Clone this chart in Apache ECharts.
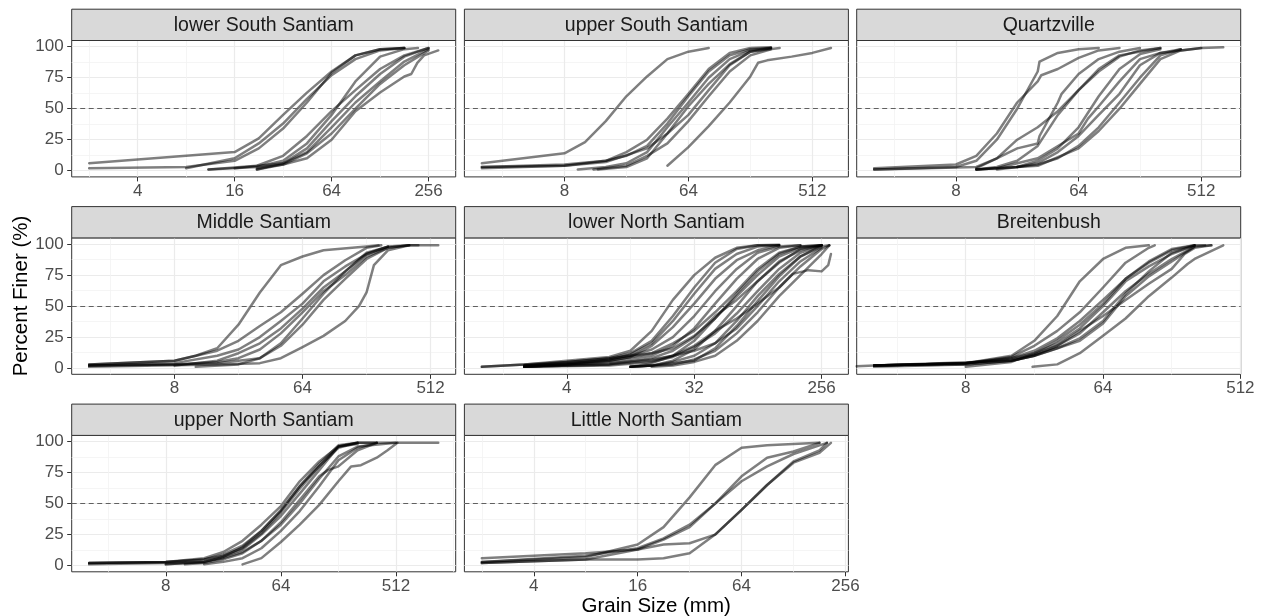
<!DOCTYPE html>
<html>
<head>
<meta charset="utf-8">
<script src="https://cdn.jsdelivr.net/npm/echarts@6/dist/echarts.min.js"></script>
<style>
  html, body { margin: 0; padding: 0; background: #ffffff; }
  #chart { width: 1261px; height: 616px; }
</style>
</head>
<body>
<div id="chart"></div>
<script>
// Cumulative grain-size distributions (pebble counts), one facet per reach.
// Each curve is a list of [grain size in mm, percent finer].

const reachNames = [
  'lower South Santiam', 'upper South Santiam', 'Quartzville',
  'Middle Santiam', 'lower North Santiam', 'Breitenbush',
  'upper North Santiam', 'Little North Santiam'
];

const lowerSouthSantiam = [
  [[2,6],[16,15],[22.6,26],[32,45],[45,63],[64,80],[90,93],[128,98],[181,99]],
  [[2,2],[8,3],[16,8],[22.6,18],[32,34],[45,55],[64,79],[90,93],[128,98],[181,99]],
  [[8,2],[16,10],[22.6,22],[32,38],[45,58],[64,77],[90,90],[128,97],[181,99]],
  [[11,1],[22,4],[32,12],[45,28],[64,48],[90,65],[128,82],[181,93],[256,99]],
  [[11,1],[22,3],[32,8],[45,22],[64,45],[90,72],[128,92],[181,98],[220,99]],
  [[22,1],[32,6],[45,18],[64,40],[90,60],[128,78],[181,92],[256,99]],
  [[22,1],[32,5],[45,10],[64,25],[90,48],[128,63],[181,76],[200,78],[218,87],[240,93],[294,97]],
  [[16,2],[32,6],[45,15],[64,35],[90,55],[128,72],[181,88],[256,98]],
  [[22,2],[32,5],[45,14],[64,30],[90,50],[128,70],[181,85],[256,97]]
];

const upperSouthSantiam = [
  [[2,6],[8,14],[11.3,23],[16,40],[22.6,60],[32,76],[45,90],[64,96],[90,99]],
  [[2,3],[8,4],[16,8],[22.6,15],[32,25],[45,42],[64,62],[90,82],[128,95],[181,99],[256,99.5]],
  [[2,3],[8,5],[16,8],[22.6,12],[32,20],[45,38],[64,60],[90,80],[128,93],[181,98],[256,99]],
  [[10,1],[16,3],[22.6,6],[32,15],[45,35],[64,55],[90,75],[128,90],[181,97],[256,99]],
  [[14,1],[22.6,3],[32,10],[45,30],[64,52],[90,70],[128,86],[181,96],[296,99]],
  [[2,2],[8,4],[16,7],[32,18],[45,30],[64,45],[90,65],[128,85],[181,96],[256,99]],
  [[13,1],[22.6,4],[32,12],[45,22],[64,40],[90,60],[128,80],[181,93],[256,98]],
  [[45,4],[64,19],[90,36],[128,55],[181,76],[206,87],[240,89],[362,92],[512,95],[700,99]]
];

const quartzville = [
  [[2,1],[8,3],[11.3,8],[16,25],[22.6,50],[32,80],[33,88],[45,95],[64,98],[90,99]],
  [[2,2],[8,5],[11.3,12],[16,30],[22.6,55],[32,72],[34,77],[45,82],[64,91],[90,97],[128,99]],
  [[2,1],[11.3,3],[16,10],[22.6,18],[32,22],[33,28],[45,55],[48,62],[64,78],[90,90],[128,96],[181,99]],
  [[11.3,2],[16,10],[22.6,25],[32,35],[45,48],[64,65],[90,80],[128,92],[181,97],[256,99]],
  [[11.3,1],[16,3],[22.6,8],[32,20],[45,45],[64,65],[90,82],[128,93],[256,99]],
  [[11.3,1],[16,2],[32,10],[64,30],[75,42],[90,52],[128,72],[181,90],[256,95],[362,97],[512,99],[743,99.5]],
  [[11.3,1],[22.6,3],[32,6],[45,15],[64,28],[90,45],[128,62],[181,85],[256,95],[362,98]],
  [[16,1],[32,5],[45,10],[64,20],[90,35],[128,55],[181,75],[256,93],[362,98]],
  [[11.3,1],[32,4],[64,18],[90,32],[128,50],[181,70],[256,90],[362,97],[512,99]],
  [[22.6,3],[32,8],[45,18],[64,35],[90,60],[128,82],[181,94],[256,98]]
];

const middleSantiam = [
  [[2,3],[8,6],[11.3,10],[16,16],[22.6,35],[32,61],[45,83],[64,90],[90,95],[181,98],[220,99]],
  [[2,3],[8,6],[16,14],[22.6,22],[32,34],[45,45],[64,60],[90,75],[128,87],[181,97],[230,99]],
  [[2,2],[8,4],[16,10],[22.6,15],[32,25],[45,38],[64,52],[90,70],[128,82],[181,92],[256,98],[362,99]],
  [[8,2],[16,6],[22.6,12],[32,20],[45,32],[64,48],[90,65],[128,78],[181,92],[256,98]],
  [[2,2],[8,3],[16,5],[22.6,8],[32,15],[45,28],[64,45],[90,62],[128,75],[181,90],[256,97],[362,99]],
  [[2,1],[16,3],[32,4],[45,8],[64,17],[90,26],[128,38],[160,50],[181,61],[204,83],[256,95],[362,99],[420,99]],
  [[11.3,1],[22.6,3],[32,8],[45,18],[64,35],[90,55],[128,72],[181,88],[256,97],[362,99],[580,99]],
  [[2,2],[8,3],[16,4],[32,8],[45,20],[64,40],[90,60],[128,78],[181,93],[256,98]]
];

const lowerNorthSantiam = [
  [[1,1],[2,3],[4,6],[8,9],[11.3,14],[16,30],[22.6,55],[32,75],[45,89],[64,97],[90,99],[128,99.5]],
  [[2,2],[4,5],[8,8],[11.3,12],[16,22],[22.6,42],[32,65],[45,85],[64,96],[90,99],[128,99]],
  [[2,1],[4,3],[8,6],[11.3,9],[16,18],[22.6,33],[32,52],[45,72],[64,87],[90,95],[128,99]],
  [[2,2],[4,4],[8,7],[11.3,10],[16,15],[22.6,25],[32,42],[45,62],[64,80],[90,93],[128,98],[181,99]],
  [[2,1],[4,3],[8,5],[16,10],[22.6,18],[32,32],[45,52],[64,72],[90,88],[128,97],[181,99]],
  [[2,2],[4,4],[8,6],[16,12],[22.6,20],[32,30],[45,45],[64,62],[90,80],[128,93],[181,98],[256,99]],
  [[11.3,1],[16,4],[22.6,10],[32,22],[45,40],[64,60],[90,78],[128,92],[181,98],[256,99]],
  [[2,1],[8,3],[16,8],[22.6,14],[32,25],[45,42],[64,55],[90,70],[128,85],[181,96],[256,99]],
  [[11.3,1],[16,2],[22.6,6],[32,15],[45,30],[64,50],[90,70],[128,86],[181,95],[256,99]],
  [[2,1],[8,2],[16,5],[22.6,9],[32,17],[45,28],[64,44],[90,62],[128,80],[181,93],[256,99]],
  [[11.3,1],[16,2],[22.6,5],[32,10],[45,20],[64,38],[90,58],[128,76],[181,90],[256,98],[290,99]],
  [[2,2],[8,4],[16,7],[22.6,10],[32,14],[45,20],[64,32],[90,50],[128,70],[181,86],[256,97]],
  [[11.3,1],[22.6,3],[32,7],[45,14],[64,28],[90,45],[128,65],[181,82],[256,96],[290,99]],
  [[16,1],[22.6,2],[32,5],[45,10],[64,22],[90,38],[128,58],[181,75],[256,92],[290,99]],
  [[2,1],[8,3],[16,6],[22.6,10],[32,18],[45,30],[64,40],[90,52],[128,65],[160,76],[207,79],[256,78],[285,83],[298,92]],
  [[2,1],[4,3],[8,7],[11.3,11],[16,20],[22.6,38],[32,60],[45,80],[64,92],[90,98],[128,99]],
  [[1,1],[2,3],[4,5],[8,8],[16,12],[22.6,16],[32,26],[45,40],[64,58],[90,75],[128,90],[181,97],[256,99]],
  [[11.3,1],[16,2],[32,6],[45,16],[64,34],[90,54],[128,74],[181,90],[256,99]]
];

const breitenbush = [
  [[2,2],[8,4],[16,10],[22.6,22],[32,42],[45,70],[64,88],[90,97],[128,99]],
  [[2,2],[8,4],[16,9],[22.6,18],[32,30],[45,45],[64,65],[90,85],[128,97],[140,99]],
  [[2,2],[8,4],[16,8],[22.6,14],[32,24],[45,38],[64,55],[90,72],[128,85],[181,95],[256,99]],
  [[2,2],[8,4],[16,8],[22.6,12],[32,20],[45,32],[64,50],[90,70],[128,82],[181,92],[256,99],[300,99]],
  [[2,1],[8,3],[16,6],[22.6,10],[32,16],[45,24],[64,38],[90,60],[128,78],[181,93],[256,99]],
  [[2,2],[8,4],[16,7],[22.6,11],[32,18],[45,28],[64,45],[90,62],[128,76],[181,88],[256,98]],
  [[22,1],[32,3],[45,12],[64,26],[90,40],[128,58],[181,73],[230,84],[256,88],[395,99]],
  [[0,1.5],[2,2],[8,3],[16,6],[22.6,10],[32,16],[45,22],[64,36],[90,58],[128,74],[181,86],[256,98],[330,99]],
  [[2,2],[16,6],[22.6,10],[32,18],[45,30],[64,42],[90,55],[128,68],[181,80],[220,92],[256,97],[330,99]],
  [[8,1],[16,5],[22.6,12],[32,22],[45,35],[64,52],[90,72],[128,86],[181,96],[256,99]]
];

const upperNorthSantiam = [
  [[2,2],[8,3],[16,5],[22.6,8],[32,14],[45,26],[64,43],[90,62],[128,80],[181,96],[256,99],[512,99]],
  [[2,2],[8,3],[16,5],[22.6,9],[32,16],[45,28],[64,44],[90,64],[128,80],[181,95],[256,99]],
  [[8,1],[16,3],[22.6,7],[32,13],[45,25],[64,40],[90,58],[128,77],[181,96],[256,98]],
  [[11.3,1],[16,2],[22.6,5],[32,10],[45,20],[64,35],[90,53],[128,72],[150,77],[181,80],[256,93],[362,99]],
  [[2,1],[8,2],[16,3],[22.6,6],[32,11],[45,20],[64,33],[90,50],[128,70],[181,88],[256,96],[512,99],[1100,99]],
  [[32,1],[45,6],[64,19],[90,33],[128,49],[181,68],[228,80],[272,81],[362,87],[440,93],[526,99]],
  [[16,1],[22.6,3],[32,6],[45,14],[64,28],[90,44],[128,64],[181,85],[256,95],[362,99]],
  [[2,2],[8,3],[16,6],[22.6,11],[32,20],[45,33],[64,48],[90,68],[128,84],[181,96],[256,99],[362,99]],
  [[8,1],[16,3],[22.6,7],[32,15],[45,28],[64,45],[90,64],[128,82],[181,97],[256,99]]
];

const littleNorthSantiam = [
  [[2,3],[8,7],[16,17],[22.6,31],[32,55],[45,81],[64,95],[90,97],[181,99]],
  [[2,6],[8,10],[16,13],[22.6,21],[32,31],[45,50],[64,72],[90,87],[128,92],[181,99]],
  [[2,3],[8,8],[16,14],[22.6,22],[32,33],[45,50],[64,68],[90,80],[128,90],[181,97],[200,99]],
  [[2,2],[8,5],[16,13],[22.6,17],[32,18],[45,25],[64,45],[90,65],[128,84],[181,93],[200,99]],
  [[2,2],[8,5],[16,5],[22.6,6],[32,10],[45,25],[64,45],[90,65],[128,83],[181,91],[211,99]]
];

const reachCurves = [
  lowerSouthSantiam, upperSouthSantiam, quartzville,
  middleSantiam, lowerNorthSantiam, breitenbush,
  upperNorthSantiam, littleNorthSantiam
];

// x tick labels (mm) for each facet; the x scale is free per facet
const xTickLabels = [
  [4, 16, 64, 256], [8, 64, 512], [8, 64, 512],
  [8, 64, 512], [4, 32, 256], [8, 64, 512],
  [8, 64, 512], [4, 16, 64, 256]
];
const yTickLabels = [0, 25, 50, 75, 100];
const referenceLevel = 50;

// ---- layout ----
const FONT = '"Liberation Sans", Arial, Helvetica, sans-serif';
const colLeft = [71.7, 464.4, 856.7];
const rowTop = [40.5, 237.9, 435.4];
const panelW = 384, panelH = 136.4, stripH = 31.3;
const lineColor = 'rgba(0,0,0,0.5)';

// ggplot-style continuous expansion: 5% of the data span on each side (log2 space)
function logExtent(curves) {
  let lo = Infinity, hi = -Infinity;
  curves.forEach(c => c.forEach(([mm]) => {
    if (mm > 0) { const v = Math.log2(mm); lo = Math.min(lo, v); hi = Math.max(hi, v); }
  }));
  const pad = (hi - lo) * 0.05;
  return [lo - pad, hi + pad];
}

function minorBreaks(majors, ext) {
  const step = majors[1] - majors[0];
  const out = majors.map(m => m - step / 2);
  out.push(majors[majors.length - 1] + step / 2);
  return out.filter(v => v >= ext[0] && v <= ext[1]);
}

const grids = [], xAxes = [], yAxes = [], series = [], graphics = [];
const yMinor = yTickLabels.slice(1).map((v, i) => (v + yTickLabels[i]) / 2);

reachNames.forEach((name, i) => {
  const col = i % 3, row = Math.floor(i / 3);
  const ext = logExtent(reachCurves[i]);
  const majors = xTickLabels[i].map(v => Math.log2(v));
  const minors = minorBreaks(majors, ext);

  grids.push({
    left: colLeft[col], top: rowTop[row], width: panelW, height: panelH,
    show: true, borderColor: '#333333', borderWidth: 1, backgroundColor: '#ffffff',
    containLabel: false, outerBoundsMode: 'none'
  });

  xAxes.push({
    gridIndex: i, type: 'value', min: ext[0], max: ext[1], position: 'bottom',
    axisLine: { show: false, onZero: false },
    axisTick: { show: true, length: 4.5, customValues: majors, lineStyle: { color: '#333333', width: 1 } },
    axisLabel: {
      customValues: majors, margin: 6, color: '#4d4d4d', fontSize: 17, fontFamily: FONT,
      formatter: v => String(Math.round(Math.pow(2, v)))
    },
    splitLine: { show: true, lineStyle: { color: '#ebebeb', width: 1.2 } }
  });
  xAxes.push({
    gridIndex: i, type: 'value', min: ext[0], max: ext[1], position: 'top',
    axisLine: { show: false, onZero: false },
    axisTick: { show: false, customValues: minors },
    axisLabel: { show: false, customValues: minors },
    splitLine: { show: true, lineStyle: { color: '#f2f2f2', width: 0.8 } }
  });

  yAxes.push({
    gridIndex: i, type: 'value', min: -5, max: 105, position: 'left',
    axisLine: { show: false, onZero: false },
    axisTick: { show: col === 0, length: 4.5, customValues: yTickLabels, lineStyle: { color: '#333333', width: 1 } },
    axisLabel: { show: col === 0, customValues: yTickLabels, margin: 8, color: '#4d4d4d', fontSize: 17, fontFamily: FONT },
    splitLine: { show: true, lineStyle: { color: '#ebebeb', width: 1.2 } }
  });
  yAxes.push({
    gridIndex: i, type: 'value', min: -5, max: 105, position: 'right',
    axisLine: { show: false, onZero: false },
    axisTick: { show: false, customValues: yMinor },
    axisLabel: { show: false, customValues: yMinor },
    splitLine: { show: true, lineStyle: { color: '#f2f2f2', width: 0.8 } }
  });

  reachCurves[i].forEach((curve, k) => {
    const s = {
      type: 'line', xAxisIndex: 2 * i, yAxisIndex: 2 * i,
      // sizes of 0 mm sit at the left panel edge, like -Inf on a log scale
      data: curve.map(([mm, pct]) => [mm > 0 ? Math.log2(mm) : ext[0], pct]),
      showSymbol: false, symbol: 'none', silent: true, animation: false,
      lineStyle: { color: lineColor, width: 2.5, join: 'round', cap: 'round' },
      emphasis: { disabled: true }, z: 3
    };
    if (k === 0) {
      s.markLine = {
        silent: true, symbol: ['none', 'none'], animation: false,
        label: { show: false },
        lineStyle: { color: '#606060', type: [5, 3.5], width: 1.1 },
        data: [{ yAxis: referenceLevel }]
      };
    }
    series.push(s);
  });

  // facet strip
  graphics.push({
    type: 'rect', silent: true, z: 10,
    shape: { x: colLeft[col], y: rowTop[row] - stripH, width: panelW, height: stripH },
    style: { fill: '#d9d9d9', stroke: '#333333', lineWidth: 1 }
  });
  graphics.push({
    type: 'text', silent: true, z: 11,
    x: colLeft[col] + panelW / 2, y: rowTop[row] - stripH / 2 + 0.5,
    style: {
      text: name, fill: '#1a1a1a', font: '19.5px ' + FONT,
      textAlign: 'center', textVerticalAlign: 'middle', align: 'center', verticalAlign: 'middle'
    }
  });
});

graphics.push({
  type: 'text', silent: true,
  x: 21, y: 296, rotation: Math.PI / 2,
  style: {
    text: 'Percent Finer (%)', fill: '#000000', font: '20.5px ' + FONT,
    textAlign: 'center', textVerticalAlign: 'middle', align: 'center', verticalAlign: 'middle'
  }
});
graphics.push({
  type: 'text', silent: true,
  x: (colLeft[0] + colLeft[2] + panelW) / 2, y: 606,
  style: {
    text: 'Grain Size (mm)', fill: '#000000', font: '20.5px ' + FONT,
    textAlign: 'center', textVerticalAlign: 'middle', align: 'center', verticalAlign: 'middle'
  }
});

const chart = echarts.init(document.getElementById('chart'), null, { renderer: 'canvas' });
chart.setOption({
  backgroundColor: '#ffffff',
  animation: false,
  grid: grids,
  xAxis: xAxes,
  yAxis: yAxes,
  series: series,
  graphic: graphics
});
</script>
</body>
</html>
